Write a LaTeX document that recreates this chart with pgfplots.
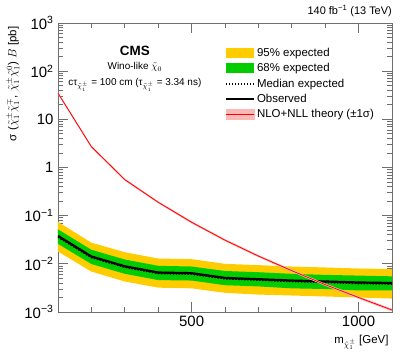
\documentclass[border=0pt]{standalone}
\usepackage{fontspec}
\setmainfont{Liberation Sans}
\usepackage{pgfplots}
\pgfplotsset{compat=1.18}

\definecolor{cmsyellow}{RGB}{255,204,0}
\definecolor{cmsgreen}{RGB}{0,204,0}
\definecolor{theoryband}{RGB}{250,185,185}
\definecolor{axisgray}{RGB}{110,110,110}

\begin{document}
\begin{tikzpicture}
\useasboundingbox (-58bp,-41bp) rectangle (349bp,312bp);
\begin{axis}[
  name=ax,
  at={(0,0)}, anchor=south west,
  scale only axis, width=334bp, height=289bp,
  ymode=log,
  xmin=100, xmax=1100, ymin=1e-3, ymax=1e3,
  axis line style={axisgray, line width=0.9pt},
  every tick/.style={axisgray, line width=0.8pt},
  major tick length=10bp, minor tick length=5bp,
  xtick={500,1000}, xticklabels={500,1000},
  minor xtick={200,300,400,600,700,800,900},
  ytick={1e-3,1e-2,1e-1,1,10,100,1000},
  yticklabels={10\textsuperscript{−3},10\textsuperscript{−2},10\textsuperscript{−1},1,10,10\textsuperscript{2},10\textsuperscript{3}},
  tick label style={font=\fontsize{15}{17}\selectfont},
  xticklabel style={yshift=-1bp},
  yticklabel style={xshift=-1bp},
  xlabel={m$_{\tilde{\chi}^{\pm}_{1}}$ [GeV]},
  xlabel style={at={(axis description cs:1,0)}, anchor=north east, yshift=-20bp, font=\fontsize{11.5}{13}\selectfont},
  ylabel={σ ($\tilde{\chi}^{\pm}_{1}\tilde{\chi}^{\mp}_{1}$, $\tilde{\chi}^{\pm}_{1}\tilde{\chi}^{0}_{1}$) $B$ [pb]},
  ylabel style={at={(axis description cs:-0.105,1)}, anchor=south east, font=\fontsize{11.5}{13}\selectfont},
  legend style={at={(axis description cs:0.49,0.928)}, anchor=north west,
    draw=none, fill=none, font=\fontsize{11.5}{12}\selectfont,
    row sep=1.6bp, /tikz/every even column/.append style={column sep=5bp}},
  legend cell align=left,
]
% 95% band
\addplot[fill=cmsyellow, draw=none,
  legend image code/.code={\fill[cmsyellow] (0bp,-5bp) rectangle (28bp,5bp);}]
coordinates {
 (100,0.074) (200,0.0275) (300,0.0174) (400,0.0129) (500,0.0125) (600,0.0100)
 (700,0.0094) (800,0.0088) (900,0.0084) (1000,0.0080) (1100,0.0078)
 (1100,0.0019) (1000,0.0020) (900,0.0021) (800,0.0022) (700,0.0023)
 (600,0.0025) (500,0.0031) (400,0.0032) (300,0.0043) (200,0.0069) (100,0.018)
} -- cycle;
\addlegendentry{95\% expected}
% 68% band
\addplot[fill=cmsgreen, draw=none,
  legend image code/.code={\fill[cmsgreen] (0bp,-5bp) rectangle (28bp,5bp);}]
coordinates {
 (100,0.052) (200,0.0196) (300,0.0123) (400,0.0091) (500,0.0088) (600,0.0071)
 (700,0.0067) (800,0.0062) (900,0.0059) (1000,0.0057) (1100,0.0055)
 (1100,0.0028) (1000,0.0028) (900,0.0030) (800,0.0031) (700,0.0034)
 (600,0.0036) (500,0.0045) (400,0.0046) (300,0.0062) (200,0.0099) (100,0.026)
} -- cycle;
\addlegendentry{68\% expected}
% median expected
\addplot[black, line width=1.5pt, dash pattern=on 1.5pt off 1.5pt,
  legend image code/.code={\draw[black, line width=1.8pt, dash pattern=on 1.5pt off 1.5pt] (0bp,0bp) -- (28bp,0bp);}]
coordinates {
 (100,0.036) (200,0.0135) (300,0.0085) (400,0.0063) (500,0.0061) (600,0.0049)
 (700,0.0046) (800,0.0043) (900,0.0041) (1000,0.0039) (1100,0.0038)
};
\addlegendentry{Median expected}
% observed
\addplot[black, line width=2.2pt,
  legend image code/.code={\draw[black, line width=2.2pt] (0bp,0bp) -- (28bp,0bp);}]
coordinates {
 (100,0.038) (200,0.0142) (300,0.0089) (400,0.0066) (500,0.0064) (600,0.0051)
 (700,0.0048) (800,0.0045) (900,0.0043) (1000,0.0041) (1100,0.0040)
};
\addlegendentry{Observed}
% theory band
\addplot[fill=theoryband, draw=none, forget plot]
coordinates {
 (100,37.0) (200,2.85) (300,0.59) (400,0.200) (500,0.077) (600,0.0327)
 (700,0.0153) (800,0.0076) (900,0.0039) (1000,0.00212) (1100,0.00117)
 (1100,0.00103) (1000,0.00188) (900,0.0035) (800,0.0068) (700,0.0137)
 (600,0.0293) (500,0.069) (400,0.180) (300,0.53) (200,2.55) (100,33.0)
} -- cycle;
% theory
\addplot[red, line width=0.8pt,
  legend image code/.code={\fill[theoryband] (0bp,-5bp) rectangle (28bp,5bp); \draw[red, line width=0.8pt] (0bp,0bp) -- (28bp,0bp);}]
coordinates {
 (100,35) (200,2.7) (300,0.56) (400,0.19) (500,0.073) (600,0.031)
 (700,0.0145) (800,0.0072) (900,0.0037) (1000,0.0020) (1100,0.0011)
};
\addlegendentry{NLO+NLL theory (±1σ)}

\node[font=\bfseries\fontsize{13.5}{15}\selectfont, inner sep=0pt] at (axis description cs:0.23,0.903) {CMS};
\node[font=\fontsize{10}{12}\selectfont, inner sep=0pt] at (axis description cs:0.23,0.848) {Wino-like $\tilde{\chi}_{0}$};
\node[font=\fontsize{10}{12}\selectfont, inner sep=0pt] at (axis description cs:0.23,0.786) {cτ$_{\tilde{\chi}^{\pm}_{1}}$ = 100 cm (τ$_{\tilde{\chi}^{\pm}_{1}}$ = 3.34 ns)};
\end{axis}
\node[anchor=south east, font=\fontsize{11}{13}\selectfont, inner sep=0pt] at ([yshift=6bp]ax.north east) {140 fb\textsuperscript{−1} (13 TeV)};
\end{tikzpicture}
\end{document}
